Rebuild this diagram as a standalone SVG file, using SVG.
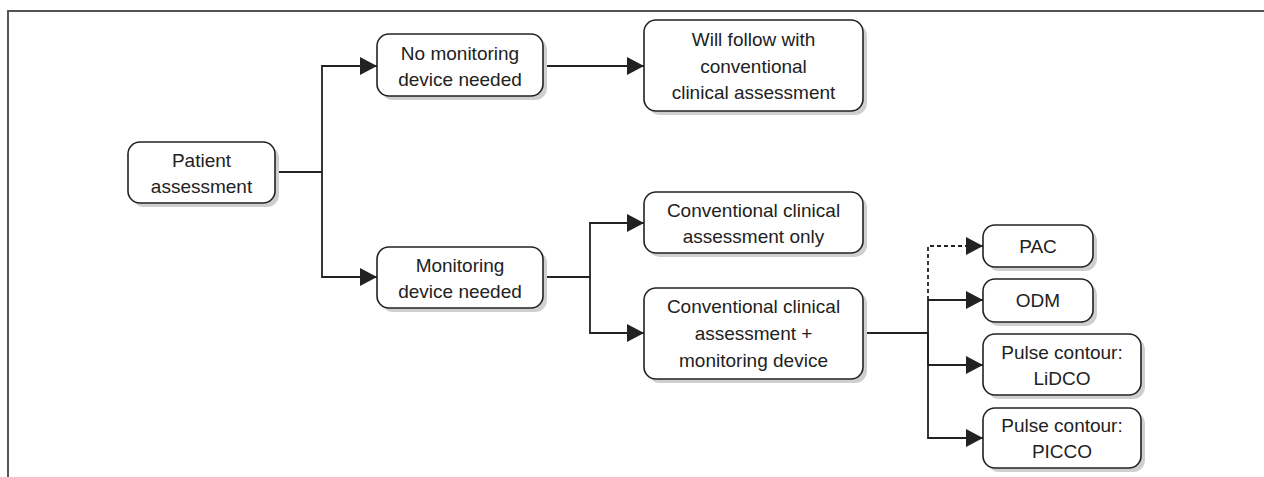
<svg xmlns="http://www.w3.org/2000/svg" width="1264" height="477" viewBox="0 0 1264 477">
<style>
  .box{fill:#fff;stroke:#222;stroke-width:1.6}
  .sh{fill:#cfcfcf}
  .t{font-family:"Liberation Sans",Arial,sans-serif;font-size:19px;fill:#222;text-anchor:middle}
  .c{fill:none;stroke:#222;stroke-width:1.8}
  .d{fill:none;stroke:#222;stroke-width:1.8;stroke-dasharray:4 3}
  .frame{fill:none;stroke:#555;stroke-width:2}
</style>
<defs>
  <marker id="arr" markerUnits="userSpaceOnUse" markerWidth="17" markerHeight="18" refX="17" refY="9" orient="auto" viewBox="0 0 17 18">
    <path d="M0,0 L17,9 L0,18 Z" fill="#222"/>
  </marker>
</defs>
<rect width="1264" height="477" fill="#fff"/>
<path class="frame" d="M8,477 V11 H1264"/>

<g id="connectors">
  <path class="c" d="M275,172 H322"/>
  <path class="c" d="M322,172 V66 H377" marker-end="url(#arr)"/>
  <path class="c" d="M322,172 V277 H377" marker-end="url(#arr)"/>
  <path class="c" d="M543,66 H644" marker-end="url(#arr)"/>
  <path class="c" d="M543,277 H590"/>
  <path class="c" d="M590,277 V223 H644" marker-end="url(#arr)"/>
  <path class="c" d="M590,277 V333 H644" marker-end="url(#arr)"/>
  <path class="c" d="M863,333 H928"/>
  <path class="d" d="M928,300 V246 H983" marker-end="url(#arr)"/>
  <path class="c" d="M928,333 V300 H983" marker-end="url(#arr)"/>
  <path class="c" d="M928,333 V365 H983" marker-end="url(#arr)"/>
  <path class="c" d="M928,333 V438 H983" marker-end="url(#arr)"/>
</g>

<g id="patient">
  <rect class="sh" x="132" y="146" width="147" height="61" rx="12"/>
  <rect class="box" x="128" y="142" width="147" height="61" rx="12"/>
  <text class="t" x="201.5" y="167">Patient</text>
  <text class="t" x="201.5" y="193">assessment</text>
</g>
<g id="no-monitoring">
  <rect class="sh" x="381" y="38" width="166" height="62" rx="12"/>
  <rect class="box" x="377" y="34" width="166" height="62" rx="12"/>
  <text class="t" x="460" y="60">No monitoring</text>
  <text class="t" x="460" y="86">device needed</text>
</g>
<g id="will-follow">
  <rect class="sh" x="648" y="24" width="219" height="91" rx="12"/>
  <rect class="box" x="644" y="20" width="219" height="91" rx="12"/>
  <text class="t" x="753.5" y="46">Will follow with</text>
  <text class="t" x="753.5" y="73">conventional</text>
  <text class="t" x="753.5" y="99">clinical assessment</text>
</g>
<g id="monitoring">
  <rect class="sh" x="381" y="251" width="166" height="61" rx="12"/>
  <rect class="box" x="377" y="247" width="166" height="61" rx="12"/>
  <text class="t" x="460" y="272">Monitoring</text>
  <text class="t" x="460" y="298">device needed</text>
</g>
<g id="conv-only">
  <rect class="sh" x="648" y="196" width="219" height="61" rx="12"/>
  <rect class="box" x="644" y="192" width="219" height="61" rx="12"/>
  <text class="t" x="753.5" y="217">Conventional clinical</text>
  <text class="t" x="753.5" y="243">assessment only</text>
</g>
<g id="conv-plus">
  <rect class="sh" x="648" y="292" width="219" height="91" rx="12"/>
  <rect class="box" x="644" y="288" width="219" height="91" rx="12"/>
  <text class="t" x="753.5" y="313">Conventional clinical</text>
  <text class="t" x="753.5" y="340">assessment +</text>
  <text class="t" x="753.5" y="367">monitoring device</text>
</g>
<g id="pac">
  <rect class="sh" x="987" y="229" width="110" height="42" rx="12"/>
  <rect class="box" x="983" y="225" width="110" height="42" rx="12"/>
  <text class="t" x="1038" y="253">PAC</text>
</g>
<g id="odm">
  <rect class="sh" x="987" y="283" width="110" height="43" rx="12"/>
  <rect class="box" x="983" y="279" width="110" height="43" rx="12"/>
  <text class="t" x="1038" y="307">ODM</text>
</g>
<g id="lidco">
  <rect class="sh" x="987" y="338" width="158" height="61" rx="12"/>
  <rect class="box" x="983" y="334" width="158" height="61" rx="12"/>
  <text class="t" x="1062" y="359">Pulse contour:</text>
  <text class="t" x="1062" y="385">LiDCO</text>
</g>
<g id="picco">
  <rect class="sh" x="987" y="412" width="158" height="60" rx="12"/>
  <rect class="box" x="983" y="408" width="158" height="60" rx="12"/>
  <text class="t" x="1062" y="432">Pulse contour:</text>
  <text class="t" x="1062" y="458">PICCO</text>
</g>
</svg>
